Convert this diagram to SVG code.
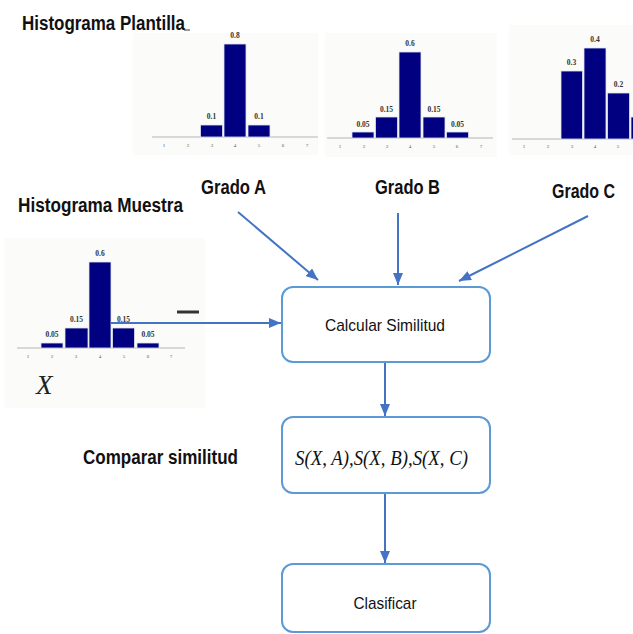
<svg xmlns="http://www.w3.org/2000/svg" width="633" height="634" viewBox="0 0 633 634">
  <style>
    .title { font-family: "Liberation Sans", Arial, sans-serif; font-weight: bold; font-size: 20px; fill: #111; }
    .panel { fill: #fbfbf9; }
    .bar { fill: #000080; stroke: #dfe3ee; stroke-width: 0.8; }
    .axis { stroke: #b5b5b5; stroke-width: 1; fill: none; }
    .val { font-family: "Liberation Serif", "Times New Roman", serif; font-size: 7.5px; fill: #333; text-anchor: middle; font-weight: bold; }
    .tick { font-family: "Liberation Serif", "Times New Roman", serif; font-size: 5px; fill: #555; text-anchor: middle; }
    .box { fill: #ffffff; stroke: #5b9bd5; stroke-width: 2; }
    .label { font-family: "Liberation Sans", Arial, sans-serif; font-size: 17px; fill: #111; text-anchor: middle; }
    .math { font-family: "Liberation Serif", "Times New Roman", serif; font-style: italic; font-size: 21px; fill: #111; }
    .conn { stroke: #4472c4; stroke-width: 2; fill: none; marker-end: url(#arrow); }
  </style>
  <defs>
    <marker id="arrow" viewBox="0 0 12 10" refX="12" refY="5" markerWidth="12" markerHeight="10" markerUnits="userSpaceOnUse" orient="auto">
      <path d="M0,0 L12,5 L0,10 z" fill="#4472c4"/>
    </marker>
  </defs>
  <rect width="633" height="634" fill="#ffffff"/>

  <!-- Template histograms -->
  <text class="title" x="22" y="30" textLength="163" lengthAdjust="spacingAndGlyphs">Histograma Plantilla</text>
  <line x1="184" y1="30" x2="190" y2="30" stroke="#333" stroke-width="1"/>

  <g id="hist-a">
    <rect class="panel" x="133" y="33" width="185" height="122"/>
    <line class="axis" x1="152" y1="137" x2="318" y2="137"/>
    <rect class="bar" x="200.5" y="125" width="22" height="12"/>
    <rect class="bar" x="224" y="44" width="22" height="93"/>
    <rect class="bar" x="248" y="125" width="22" height="12"/>
    <text class="val" x="211.5" y="119">0.1</text>
    <text class="val" x="235" y="38">0.8</text>
    <text class="val" x="259" y="119">0.1</text>
    <g class="tick">
      <text x="164" y="147">1</text><text x="188" y="147">2</text><text x="212" y="147">3</text>
      <text x="235" y="147">4</text><text x="259" y="147">5</text><text x="283" y="147">6</text><text x="307" y="147">7</text>
    </g>
  </g>

  <g id="hist-b">
    <rect class="panel" x="325" y="33" width="172" height="124"/>
    <line class="axis" x1="327" y1="138" x2="493" y2="138"/>
    <rect class="bar" x="352" y="132" width="22" height="6"/>
    <rect class="bar" x="375.5" y="117" width="22" height="21"/>
    <rect class="bar" x="399" y="52" width="22" height="86"/>
    <rect class="bar" x="423" y="117" width="22" height="21"/>
    <rect class="bar" x="446.5" y="132" width="22" height="6"/>
    <text class="val" x="363" y="127">0.05</text>
    <text class="val" x="386.5" y="112">0.15</text>
    <text class="val" x="410" y="46">0.6</text>
    <text class="val" x="434" y="112">0.15</text>
    <text class="val" x="457.5" y="127">0.05</text>
    <g class="tick">
      <text x="340" y="148">1</text><text x="364" y="148">2</text><text x="387" y="148">3</text>
      <text x="410" y="148">4</text><text x="434" y="148">5</text><text x="457" y="148">6</text><text x="481" y="148">7</text>
    </g>
  </g>

  <g id="hist-c">
    <rect class="panel" x="509" y="25" width="124" height="130"/>
    <line class="axis" x1="512" y1="139" x2="633" y2="139"/>
    <rect class="bar" x="561" y="71" width="21.5" height="68"/>
    <rect class="bar" x="584" y="48" width="22" height="91"/>
    <rect class="bar" x="607.5" y="93" width="22" height="46"/>
    <rect class="bar" x="631" y="117" width="6" height="22"/>
    <text class="val" x="571.5" y="65">0.3</text>
    <text class="val" x="595" y="42">0.4</text>
    <text class="val" x="618.5" y="87">0.2</text>
    <g class="tick">
      <text x="524" y="148">1</text><text x="548" y="148">2</text><text x="572" y="148">3</text>
      <text x="595" y="148">4</text><text x="618" y="148">5</text>
    </g>
  </g>

  <!-- Grade labels -->
  <text class="title" x="201" y="194" textLength="65" lengthAdjust="spacingAndGlyphs">Grado A</text>
  <text class="title" x="375" y="194" textLength="65" lengthAdjust="spacingAndGlyphs">Grado B</text>
  <text class="title" x="552" y="198" textLength="63" lengthAdjust="spacingAndGlyphs">Grado C</text>

  <!-- Sample histogram -->
  <text class="title" x="18" y="212" textLength="165" lengthAdjust="spacingAndGlyphs">Histograma Muestra</text>
  <g id="hist-x">
    <rect class="panel" x="5" y="238" width="200" height="170"/>
    <line class="axis" x1="17" y1="348" x2="185" y2="348"/>
    <rect class="bar" x="41" y="343" width="22" height="5"/>
    <rect class="bar" x="65" y="328" width="23" height="20"/>
    <rect class="bar" x="89" y="262" width="22" height="86"/>
    <rect class="bar" x="112.5" y="328" width="22" height="20"/>
    <rect class="bar" x="137" y="343" width="22" height="5"/>
    <text class="val" x="52" y="337">0.05</text>
    <text class="val" x="76.5" y="322">0.15</text>
    <text class="val" x="100" y="256">0.6</text>
    <text class="val" x="123.5" y="322">0.15</text>
    <text class="val" x="148" y="337">0.05</text>
    <g class="tick">
      <text x="28" y="358">1</text><text x="52" y="358">2</text><text x="76" y="358">3</text>
      <text x="100" y="358">4</text><text x="124" y="358">5</text><text x="148" y="358">6</text><text x="171" y="358">7</text>
    </g>
    <line x1="177" y1="312" x2="199" y2="312" stroke="#333" stroke-width="3"/>
    <text x="36" y="394" font-family="Liberation Serif, 'Times New Roman', serif" font-style="italic" font-size="27" fill="#222">X</text>
  </g>

  <text class="title" x="83" y="464" textLength="155" lengthAdjust="spacingAndGlyphs">Comparar similitud</text>

  <!-- Process boxes -->
  <g id="calcular">
    <rect class="box" x="282" y="287" width="208" height="75" rx="11"/>
    <text class="label" x="385" y="331" textLength="120" lengthAdjust="spacingAndGlyphs">Calcular Similitud</text>
  </g>
  <g id="comparar">
    <rect class="box" x="282" y="417" width="208" height="76" rx="11"/>
    <text class="math" x="295" y="465" textLength="173" lengthAdjust="spacingAndGlyphs">S(X, A),S(X, B),S(X, C)</text>
  </g>
  <g id="clasificar">
    <rect class="box" x="282" y="564" width="208" height="68" rx="11"/>
    <text class="label" x="385" y="609" textLength="63" lengthAdjust="spacingAndGlyphs">Clasificar</text>
  </g>

  <!-- Connectors -->
  <g id="connectors">
    <line class="conn" x1="238" y1="212" x2="318" y2="280"/>
    <line class="conn" x1="398" y1="213" x2="398" y2="285"/>
    <line class="conn" x1="588" y1="216" x2="459" y2="281"/>
    <line class="conn" x1="111" y1="323" x2="281" y2="323"/>
    <line class="conn" x1="385" y1="363" x2="385" y2="416"/>
    <line class="conn" x1="385" y1="494" x2="385" y2="563"/>
  </g>
</svg>
